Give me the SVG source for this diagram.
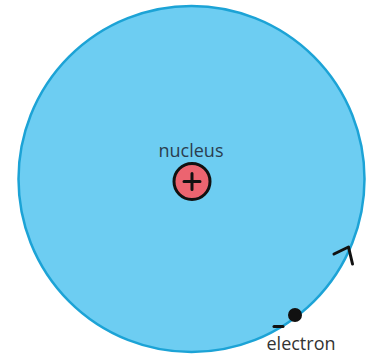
<svg xmlns="http://www.w3.org/2000/svg" width="372" height="358" viewBox="0 0 372 358">
<style>
.lbl{font-family:"Open Sans","Liberation Sans",sans-serif;font-size:18px;text-anchor:middle}
.ink{fill:none;stroke:#111;stroke-width:3;stroke-linecap:round;stroke-linejoin:round}
</style>
<rect width="372" height="358" fill="#ffffff"/>
<g id="atom">
<circle cx="191.5" cy="179" r="173" fill="#6dcdf2" stroke="#1ca3d6" stroke-width="2.5"/>
</g>
<g id="nucleus">
<text class="lbl" x="191" y="157" fill="#2b3d4f">nucleus</text>
<circle cx="192" cy="181.5" r="18" fill="#ec6470" stroke="#111" stroke-width="3"/>
<path class="ink" d="M184 181.5H200M192 173.5V189.5" stroke-width="2.2"/>
</g>
<g id="electron">
<circle cx="295" cy="315" r="7" fill="#111"/>
<path class="ink" d="M274 326.5H283"/>
<text class="lbl" x="301" y="350" fill="#333">electron</text>
</g>
<g id="connectors">
<path class="ink" d="M334 254L348.5 247L352.5 264"/>
</g>
</svg>
